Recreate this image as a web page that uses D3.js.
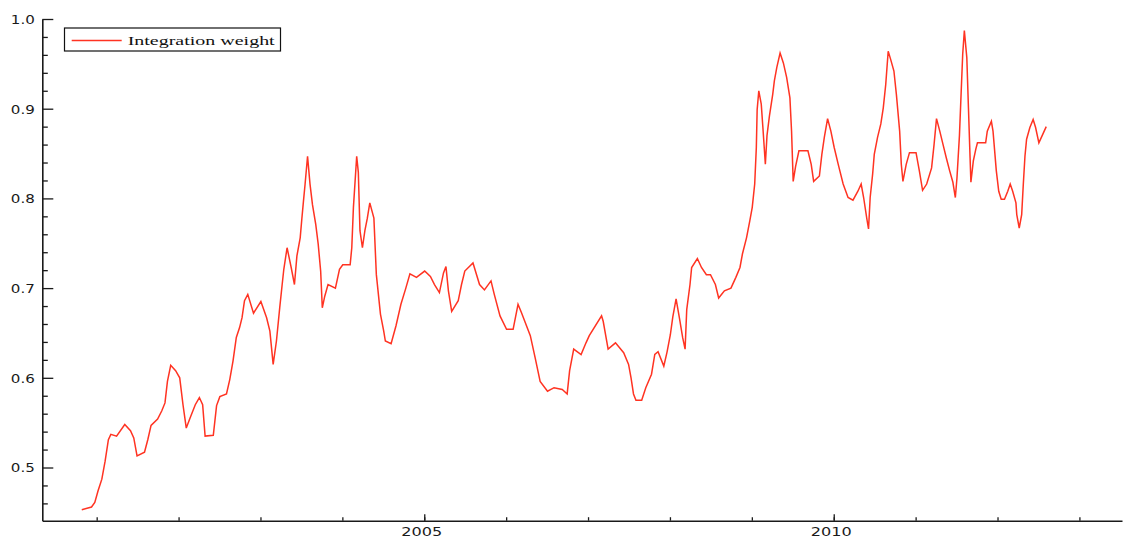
<!DOCTYPE html>
<html>
<head>
<meta charset="utf-8">
<script src="https://cdn.jsdelivr.net/npm/d3@7"></script>
<style>
  html, body { margin: 0; padding: 0; background: #fff; }
  svg { display: block; }
</style>
</head>
<body>
<svg id="chart" width="1125" height="538"></svg>
<script>
// ---- data (decimal year, value) ----
const years = [
  2000.818, 2000.937, 2000.977, 2001.017, 2001.063, 2001.103, 2001.143, 2001.173, 2001.243, 2001.343,
  2001.413, 2001.453, 2001.493, 2001.584, 2001.624, 2001.664, 2001.744, 2001.794, 2001.834, 2001.864,
  2001.904, 2001.964, 2002.014, 2002.054, 2002.094, 2002.144, 2002.204, 2002.254, 2002.294, 2002.324,
  2002.424, 2002.464, 2002.504, 2002.585, 2002.625, 2002.665, 2002.705, 2002.745, 2002.775, 2002.805,
  2002.845, 2002.915, 2003.005, 2003.075, 2003.115, 2003.155, 2003.195, 2003.235, 2003.265, 2003.285,
  2003.325, 2003.375, 2003.415, 2003.445, 2003.485, 2003.505, 2003.525, 2003.545, 2003.575, 2003.605,
  2003.635, 2003.675, 2003.705, 2003.735, 2003.755, 2003.785, 2003.825, 2003.915, 2003.965, 2004.005,
  2004.095, 2004.115, 2004.135, 2004.175, 2004.195, 2004.215, 2004.245, 2004.275, 2004.305, 2004.335,
  2004.385, 2004.415, 2004.465, 2004.505, 2004.525, 2004.595, 2004.655, 2004.715, 2004.775, 2004.825,
  2004.905, 2005.005, 2005.075, 2005.125, 2005.185, 2005.235, 2005.265, 2005.295, 2005.335, 2005.415,
  2005.455, 2005.495, 2005.595, 2005.675, 2005.735, 2005.815, 2005.855, 2005.925, 2006.005, 2006.085,
  2006.145, 2006.185, 2006.295, 2006.355, 2006.415, 2006.505, 2006.585, 2006.685, 2006.745, 2006.775,
  2006.825, 2006.915, 2006.975, 2007.015, 2007.165, 2007.185, 2007.245, 2007.335, 2007.435, 2007.495,
  2007.525, 2007.555, 2007.585, 2007.655, 2007.705, 2007.775, 2007.815, 2007.855, 2007.925, 2007.965,
  2008.005, 2008.035, 2008.075, 2008.115, 2008.155, 2008.185, 2008.205, 2008.245, 2008.265, 2008.335,
  2008.385, 2008.445, 2008.495, 2008.555, 2008.595, 2008.665, 2008.745, 2008.805, 2008.855, 2008.885,
  2008.935, 2008.975, 2009.005, 2009.035, 2009.055, 2009.065, 2009.085, 2009.115, 2009.135, 2009.165,
  2009.185, 2009.215, 2009.255, 2009.275, 2009.305, 2009.345, 2009.385, 2009.425, 2009.465, 2009.485,
  2009.505, 2009.535, 2009.575, 2009.685, 2009.725, 2009.755, 2009.825, 2009.855, 2009.885, 2009.925,
  2009.965, 2010.005, 2010.055, 2010.115, 2010.175, 2010.235, 2010.295, 2010.335, 2010.365, 2010.405,
  2010.425, 2010.445, 2010.475, 2010.495, 2010.535, 2010.575, 2010.605, 2010.635, 2010.665, 2010.695,
  2010.735, 2010.765, 2010.805, 2010.825, 2010.845, 2010.885, 2010.925, 2011.005, 2011.045, 2011.085,
  2011.135, 2011.195, 2011.225, 2011.255, 2011.295, 2011.335, 2011.375, 2011.415, 2011.455, 2011.485,
  2011.505, 2011.535, 2011.555, 2011.575, 2011.595, 2011.625, 2011.645, 2011.665, 2011.675, 2011.705,
  2011.735, 2011.755, 2011.855, 2011.875, 2011.925, 2011.945, 2011.965, 2011.985, 2012.015, 2012.045,
  2012.085, 2012.125, 2012.155, 2012.185, 2012.225, 2012.235, 2012.265, 2012.295, 2012.315, 2012.335,
  2012.355, 2012.395, 2012.435, 2012.465, 2012.505, 2012.545, 2012.595
];
const weights = [
  0.453, 0.456, 0.461, 0.474, 0.487, 0.507, 0.531, 0.537, 0.535, 0.548,
  0.541, 0.533, 0.513, 0.517, 0.531, 0.547, 0.554, 0.563, 0.572, 0.596,
  0.614, 0.608, 0.600, 0.570, 0.544, 0.556, 0.570, 0.578, 0.570, 0.535,
  0.536, 0.569, 0.579, 0.582, 0.598, 0.619, 0.645, 0.656, 0.667, 0.686,
  0.693, 0.672, 0.685, 0.667, 0.652, 0.615, 0.641, 0.678, 0.704, 0.721,
  0.745, 0.723, 0.704, 0.736, 0.756, 0.777, 0.797, 0.816, 0.847, 0.816,
  0.793, 0.771, 0.749, 0.719, 0.678, 0.691, 0.704, 0.700, 0.721, 0.726,
  0.726, 0.745, 0.790, 0.847, 0.829, 0.764, 0.745, 0.764, 0.778, 0.795,
  0.778, 0.715, 0.671, 0.652, 0.641, 0.638, 0.658, 0.682, 0.700, 0.716,
  0.712, 0.719, 0.713, 0.704, 0.695, 0.717, 0.724, 0.697, 0.674, 0.686,
  0.704, 0.719, 0.728, 0.704, 0.698, 0.708, 0.693, 0.669, 0.654, 0.654,
  0.682, 0.673, 0.647, 0.622, 0.596, 0.585, 0.589, 0.587, 0.582, 0.608,
  0.632, 0.626, 0.639, 0.647, 0.669, 0.663, 0.632, 0.639, 0.628, 0.615,
  0.600, 0.582, 0.575, 0.575, 0.589, 0.604, 0.626, 0.629, 0.613, 0.629,
  0.648, 0.668, 0.688, 0.667, 0.645, 0.632, 0.676, 0.704, 0.723, 0.733,
  0.723, 0.715, 0.715, 0.704, 0.689, 0.697, 0.700, 0.712, 0.723, 0.738,
  0.756, 0.775, 0.790, 0.816, 0.857, 0.899, 0.920, 0.905, 0.879, 0.838,
  0.870, 0.892, 0.916, 0.931, 0.946, 0.962, 0.951, 0.935, 0.912, 0.875,
  0.819, 0.836, 0.853, 0.853, 0.838, 0.819, 0.825, 0.849, 0.868, 0.889,
  0.875, 0.857, 0.838, 0.816, 0.801, 0.798, 0.808, 0.816, 0.801, 0.777,
  0.766, 0.801, 0.827, 0.849, 0.868, 0.883, 0.901, 0.927, 0.964, 0.955,
  0.942, 0.916, 0.875, 0.838, 0.819, 0.838, 0.851, 0.851, 0.831, 0.809,
  0.816, 0.834, 0.860, 0.889, 0.875, 0.860, 0.845, 0.831, 0.818, 0.801,
  0.823, 0.870, 0.916, 0.961, 0.987, 0.957, 0.901, 0.845, 0.818, 0.842,
  0.855, 0.862, 0.862, 0.875, 0.886, 0.875, 0.853, 0.831, 0.808, 0.799,
  0.799, 0.808, 0.816, 0.808, 0.795, 0.782, 0.767, 0.782, 0.816, 0.847,
  0.866, 0.879, 0.888, 0.879, 0.862, 0.870, 0.880
];
const seriesName = "Integration weight";
const xMajorTicks = [2005, 2010];
const xMinorTicks = [2001, 2002, 2003, 2004, 2005, 2006, 2007, 2008, 2009, 2010, 2011, 2012, 2013];
const yMajorTicks = [0.5, 0.6, 0.7, 0.8, 0.9, 1.0];
const yMinorTicks = [0.46, 0.48, 0.52, 0.54, 0.56, 0.58, 0.62, 0.64, 0.66, 0.68, 0.72, 0.74, 0.76, 0.78,
                     0.82, 0.84, 0.86, 0.88, 0.92, 0.94, 0.96, 0.98];
const xDomain = [2000.336, 2013.52];
const yDomain = [0.4407, 1.0];

(function () {
  // ---- layout ----
  const svg = d3.select("#chart");
  const mLeft = 42.3, mRight = 1122, mTop = 19, mBottom = 520.7;
  const axisColor = "#1a1a1a";
  const lineColor = "#ff3322";

  const x = d3.scaleLinear().domain(xDomain).range([mLeft, mRight]);
  const y = d3.scaleLinear().domain(yDomain).range([mBottom, mTop]);

  // line
  const data = years.map((t, i) => ({ t, v: weights[i] }));
  const line = d3.line().x(d => x(d.t)).y(d => y(d.v));
  svg.append("path")
    .datum(data)
    .attr("d", line)
    .attr("fill", "none")
    .attr("stroke", lineColor)
    .attr("stroke-width", 1.5)
    .attr("stroke-linejoin", "miter");

  // x axis: minor ticks
  svg.append("g").attr("transform", `translate(0,${mBottom})`)
    .call(d3.axisBottom(x).tickValues(xMinorTicks).tickSizeInner(-3.5).tickSizeOuter(0).tickFormat(""));
  // x axis: major ticks
  const gxMajor = svg.append("g").attr("transform", `translate(0,${mBottom})`)
    .call(d3.axisBottom(x).tickValues(xMajorTicks).tickSizeInner(-6.5).tickSizeOuter(0).tickPadding(0).tickFormat(d3.format("d")));
  gxMajor.selectAll(".domain").remove();
  gxMajor.selectAll("text")
    .attr("y", 0).attr("dy", 0)
    .attr("transform", "translate(-3,15)")
    .attr("font-family", "DejaVu Sans, sans-serif")
    .attr("font-size", 11.5)
    .attr("fill", axisColor)
    .attr("textLength", 41)
    .attr("lengthAdjust", "spacingAndGlyphs");

  // y axis: minor
  svg.append("g").attr("transform", `translate(${mLeft},0)`)
    .call(d3.axisLeft(y).tickValues(yMinorTicks).tickSizeInner(-5.5).tickSizeOuter(0).tickFormat(""));
  // y axis: major
  const gyMajor = svg.append("g").attr("transform", `translate(${mLeft},0)`)
    .call(d3.axisLeft(y).tickValues(yMajorTicks).tickSizeInner(-11).tickSizeOuter(0).tickPadding(0).tickFormat(d3.format(".1f")));
  gyMajor.selectAll(".domain").remove();
  gyMajor.selectAll("text")
    .attr("x", -7.5).attr("dy", "0.36em")
    .attr("font-family", "DejaVu Sans, sans-serif")
    .attr("font-size", 12)
    .attr("fill", axisColor)
    .attr("textLength", 24)
    .attr("lengthAdjust", "spacingAndGlyphs");

  svg.selectAll(".domain").attr("stroke", axisColor).attr("stroke-width", 1.6);
  svg.selectAll(".tick line").attr("stroke", axisColor).attr("stroke-width", 1.3);

  // legend
  const lg = svg.append("g");
  lg.append("rect")
    .attr("x", 64.5).attr("y", 28).attr("width", 216).attr("height", 23)
    .attr("fill", "#fff").attr("stroke", "#111").attr("stroke-width", 1.2);
  lg.append("line")
    .attr("x1", 71.7).attr("x2", 121.7).attr("y1", 40.5).attr("y2", 40.5)
    .attr("stroke", lineColor).attr("stroke-width", 1.5);
  lg.append("text")
    .attr("x", 127.7).attr("y", 45)
    .attr("font-family", "Liberation Serif, serif")
    .attr("font-size", 13)
    .attr("fill", "#111")
    .attr("textLength", 147)
    .attr("lengthAdjust", "spacingAndGlyphs")
    .text(seriesName);
})();
</script>
</body>
</html>
